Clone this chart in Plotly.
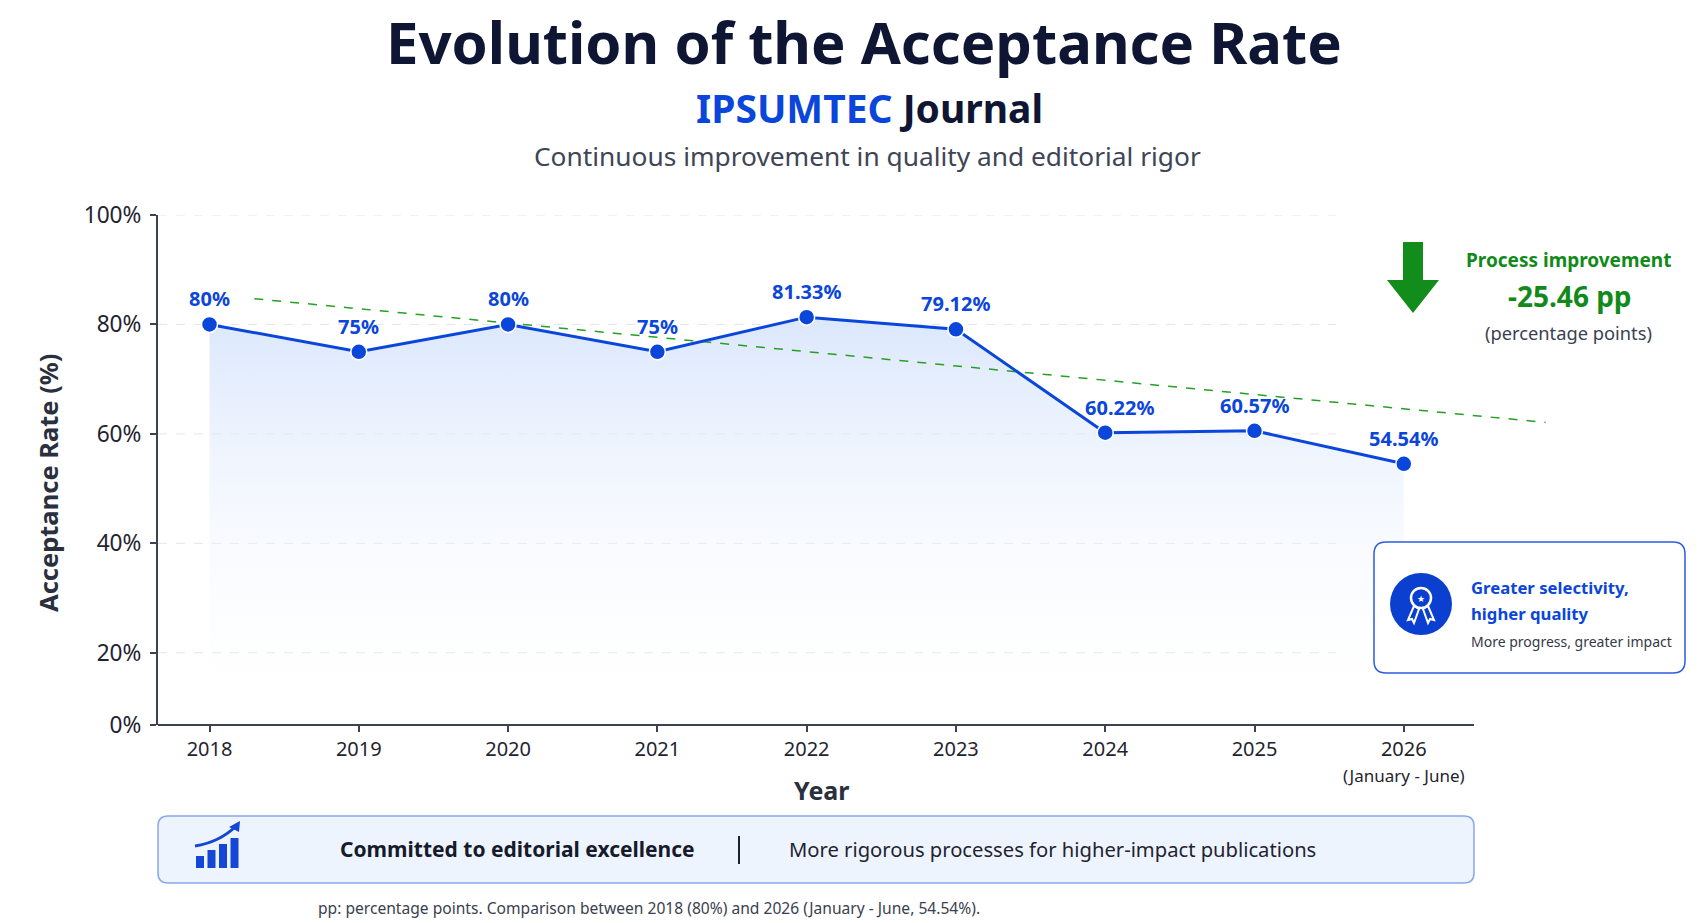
import plotly.graph_objects as go

# data
years = [2018, 2019, 2020, 2021, 2022, 2023, 2024, 2025, 2026]
rates = [80, 75, 80, 75, 81.33, 79.12, 60.22, 60.57, 54.54]
year_labels = ["2018", "2019", "2020", "2021", "2022", "2023", "2024", "2025",
               "2026<br><span style='font-size:17px'>(January - June)</span>"]
rate_labels = [f"{r:g}%" for r in rates]
label_xshift = [0, 0, 0, 0, 0, 0, 14, 0, 0]
y_tick_vals = [6.8, 20, 40, 60, 80, 100]
y_tick_text = ["0%", "20%", "40%", "60%", "80%", "100%"]
grid_vals = [20, 40, 60, 80, 100]
trend_years = [2018.3, 2026.95]
trend_rates = [84.7, 62.1]

W, H = 1704, 923
L, R, T, B = 158, 136, 215, 198
FONT = "Noto Sans, sans-serif"
BLUE = "#0b46da"
NAVY = "#0f1633"
GREEN = "#118a1a"
AXIS = "#3b4252"


def px(x):
    return (x - L) / (W - L - R)


def py(y):
    return (H - B - y) / (H - T - B)


def rounded_rect(x0, y0, x1, y1, r):
    # pixel box -> path in paper coords
    rx, ry = r / (W - L - R), r / (H - T - B)
    a, b, c, d = px(x0), py(y1), px(x1), py(y0)
    return (f"M{a+rx},{b} L{c-rx},{b} Q{c},{b} {c},{b+ry} L{c},{d-ry} "
            f"Q{c},{d} {c-rx},{d} L{a+rx},{d} Q{a},{d} {a},{d-ry} "
            f"L{a},{b+ry} Q{a},{b} {a+rx},{b} Z")


def poly(points):
    return "M" + " L".join(f"{px(x)},{py(y)}" for x, y in points) + " Z"


fig = go.Figure()

fig.add_trace(go.Scatter(
    x=years, y=rates, mode="lines", line=dict(width=0),
    fill="tozeroy",
    fillgradient=dict(type="vertical", start=6.8, stop=80,
                      colorscale=[[0, "rgba(255,255,255,0)"],
                                  [1, "rgba(214,228,252,0.85)"]]),
    hoverinfo="skip", showlegend=False,
))

fig.add_trace(go.Scatter(
    x=trend_years, y=trend_rates, mode="lines",
    line=dict(color="#25a025", width=1.5, dash="dash"),
    hoverinfo="skip", showlegend=False,
))

fig.add_trace(go.Scatter(
    x=years, y=rates, mode="lines+markers",
    line=dict(color=BLUE, width=3),
    marker=dict(size=16, color=BLUE, line=dict(color="white", width=1.5)),
    showlegend=False,
))

shapes = []
for v in grid_vals:
    shapes.append(dict(type="line", xref="paper", yref="y", x0=0, x1=px(1336),
                       y0=v, y1=v, layer="below",
                       line=dict(color="#e2e5eb", width=1, dash="dash")))
# x axis line stops before the trend extension
shapes.append(dict(type="line", xref="paper", yref="paper", x0=0, x1=px(1474),
                   y0=0, y1=0, line=dict(color=AXIS, width=2)))

# green arrow
cx = 1413
shapes.append(dict(type="path", xref="paper", yref="paper", line=dict(width=0),
                   fillcolor="#128c1b",
                   path=poly([(cx - 10, 242), (cx + 10, 242), (cx + 10, 280),
                              (cx + 26, 280), (cx, 313), (cx - 26, 280),
                              (cx - 10, 280)])))

# info box
shapes.append(dict(type="path", xref="paper", yref="paper",
                   path=rounded_rect(1374, 542, 1685, 673, 12),
                   fillcolor="white", line=dict(color="#2d5be3", width=1.5)))
shapes.append(dict(type="circle", xref="paper", yref="paper",
                   x0=px(1390), x1=px(1452), y0=py(635), y1=py(573),
                   fillcolor="#0b3fcf", line=dict(width=0)))
shapes.append(dict(type="circle", xref="paper", yref="paper",
                   x0=px(1411), x1=px(1431), y0=py(608), y1=py(588),
                   fillcolor="rgba(0,0,0,0)", line=dict(color="white", width=2.5)))
shapes.append(dict(type="path", xref="paper", yref="paper",
                   path=poly([(1414, 606), (1408, 620), (1412, 619), (1414, 623), (1419, 609)]),
                   fillcolor="rgba(0,0,0,0)", line=dict(color="white", width=2)))
shapes.append(dict(type="path", xref="paper", yref="paper",
                   path=poly([(1428, 606), (1434, 620), (1430, 619), (1428, 623), (1423, 609)]),
                   fillcolor="rgba(0,0,0,0)", line=dict(color="white", width=2)))

# bottom banner
shapes.append(dict(type="path", xref="paper", yref="paper",
                   path=rounded_rect(158, 816, 1474, 883, 10),
                   fillcolor="#eef4fe", line=dict(color="#86a8ee", width=1.5)))
for i, top in enumerate([856, 850, 844, 838]):
    x0 = 196 + i * 11.5
    shapes.append(dict(type="rect", xref="paper", yref="paper",
                       x0=px(x0), x1=px(x0 + 8), y0=py(868), y1=py(top),
                       fillcolor="#1447d6", line=dict(width=0)))
shapes.append(dict(type="path", xref="paper", yref="paper",
                   path=f"M{px(195)},{py(846)} Q{px(220)},{py(842)} {px(236)},{py(826)}",
                   line=dict(color="#1447d6", width=3)))
shapes.append(dict(type="path", xref="paper", yref="paper",
                   path=poly([(240, 821), (239, 832), (229, 827)]),
                   fillcolor="#1447d6", line=dict(width=0)))
shapes.append(dict(type="line", xref="paper", yref="paper",
                   x0=px(739), x1=px(739), y0=py(836), y1=py(864),
                   line=dict(color="#1c2230", width=2)))


def note(text, x, y, size, color, bold=False, xanchor="center"):
    return dict(text=f"<b>{text}</b>" if bold else text, x=px(x), y=py(y),
                xref="paper", yref="paper", xanchor=xanchor, yanchor="middle",
                showarrow=False, font=dict(family=FONT, size=size, color=color))


annotations = [
    note("Evolution of the Acceptance Rate", 864, 41, 58, NAVY, True),
    note(f"<span style='color:{BLUE}'>IPSUMTEC</span> Journal", 869, 107, 39, NAVY, True),
    note("Continuous improvement in quality and editorial rigor", 867, 156, 26.3, "#3e4556"),
    dict(text="<b>Acceptance Rate (%)</b>", x=px(48), y=py(483), xref="paper", yref="paper",
         textangle=-90, showarrow=False, xanchor="center", yanchor="middle",
         font=dict(family=FONT, size=25.5, color="#2a303d")),
    note("Year", 821, 790, 25, "#2a303d", True),
    note("Process improvement", 1568, 260, 19, GREEN, True),
    note("-25.46 pp", 1570, 296, 28, GREEN, True),
    note("(percentage points)", 1568, 332, 18.3, "#3a4150"),
    note("★", 1421, 598, 9, "white"),
    note("Greater selectivity,", 1469, 587, 16.7, BLUE, True, "left"),
    note("higher quality", 1469, 613, 16.7, BLUE, True, "left"),
    note("More progress, greater impact", 1469, 641, 14, "#333a48", False, "left"),
    note("Committed to editorial excellence", 517, 849, 21, "#161b2b", True),
    note("More rigorous processes for higher-impact publications", 787, 849, 20.2,
         "#1f2432", False, "left"),
    note("pp: percentage points. Comparison between 2018 (80%) and 2026 "
         "(January - June, 54.54%).", 316, 908, 15.6, "#3a4050", False, "left"),
]

# value labels above each point
for yr, r, lab, dx in zip(years, rates, rate_labels, label_xshift):
    annotations.append(dict(x=yr, y=r, xref="x", yref="y", text=f"<b>{lab}</b>",
                            showarrow=False, yanchor="bottom", yshift=10, xshift=dx,
                            font=dict(family=FONT, size=20, color=BLUE)))

fig.update_layout(
    width=W, height=H,
    margin=dict(l=L, r=R, t=T, b=B),
    paper_bgcolor="white", plot_bgcolor="white",
    font=dict(family=FONT, color="#1f2430"),
    shapes=shapes, annotations=annotations,
    xaxis=dict(range=[2017.655, 2027.1], tickvals=years, ticktext=year_labels,
               showgrid=False, zeroline=False, showline=False,
               ticks="outside", ticklen=6, tickwidth=1.5, tickcolor=AXIS,
               tickfont=dict(size=20, color="#1f2430")),
    yaxis=dict(range=[6.8, 100], tickvals=y_tick_vals, ticktext=y_tick_text,
               showgrid=False, zeroline=False, showline=True, linecolor=AXIS,
               linewidth=2, ticks="outside", ticklen=6, tickwidth=1.5,
               ticklabelstandoff=4,
               tickcolor=AXIS, tickfont=dict(size=22.7, color="#1f2430")),
)

fig.write_html("out.html", config={"displayModeBar": False},
               post_script="document.body.style.margin='0';document.body.style.overflow='hidden';")
